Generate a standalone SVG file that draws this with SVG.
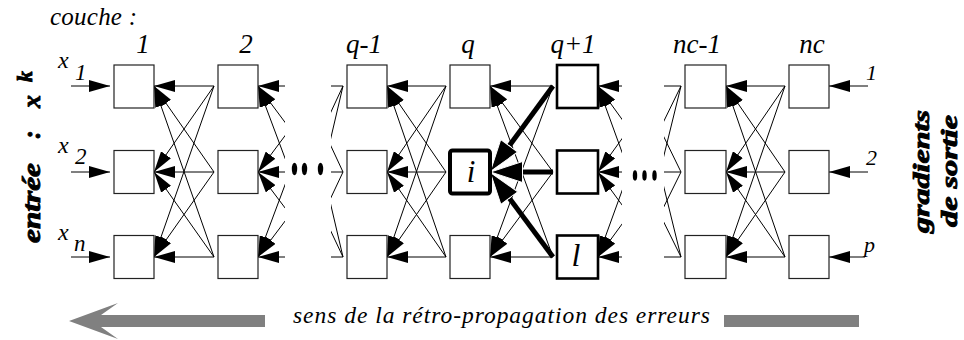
<svg xmlns="http://www.w3.org/2000/svg" width="964" height="340" viewBox="0 0 964 340">
<style>
.box{fill:#fff;stroke:#222;stroke-width:1.2}
.b2{fill:#fff;stroke:#000;stroke-width:2.6}
.b4{fill:#fff;stroke:#000;stroke-width:4}
.ln{stroke:#000;stroke-width:1;fill:none}
.ar{stroke:#000;stroke-width:1;fill:none;marker-end:url(#ah)}
.thk{stroke:#000;stroke-width:5;fill:none;marker-end:url(#ahb)}
.it{font-family:'Liberation Serif','DejaVu Serif',serif;font-style:italic;fill:#000}
.side{font-family:'Liberation Serif','DejaVu Serif',serif;font-style:italic;font-weight:bold;fill:#000;stroke:#000;stroke-width:0.9}
</style>
<defs>
<marker id="ah" markerUnits="userSpaceOnUse" markerWidth="21" markerHeight="12" refX="21" refY="6" orient="auto" viewBox="0 0 21 12"><path d="M0,0 L21,6 L0,12z" fill="#000"/></marker>
<marker id="ahb" markerUnits="userSpaceOnUse" markerWidth="33" markerHeight="22" refX="0" refY="11" orient="auto" viewBox="0 0 33 22"><path d="M0.5,0.5 L32.5,11 L0.5,21.5z" fill="#000" stroke="#fff" stroke-width="1"/></marker>
<clipPath id="cA"><rect x="250" y="40" width="35" height="250"/></clipPath>
<clipPath id="cB"><rect x="331" y="40" width="20" height="250"/></clipPath>
<clipPath id="cC"><rect x="590" y="40" width="32" height="250"/></clipPath>
<clipPath id="cD"><rect x="664" y="40" width="20" height="250"/></clipPath>
</defs>
<rect width="964" height="340" fill="#fff"/>

<g id="connectors">
<line class="ar" x1="71" y1="86" x2="110" y2="86"/>
<line class="ar" x1="71" y1="172" x2="110" y2="172"/>
<line class="ar" x1="71" y1="257" x2="110" y2="257"/>
<line class="ar" x1="214" y1="86" x2="154" y2="86"/>
<line class="ar" x1="214" y1="86" x2="154" y2="172"/>
<line class="ar" x1="214" y1="86" x2="154" y2="257"/>
<line class="ar" x1="214" y1="172" x2="154" y2="86"/>
<line class="ar" x1="214" y1="172" x2="154" y2="172"/>
<line class="ar" x1="214" y1="172" x2="154" y2="257"/>
<line class="ar" x1="214" y1="257" x2="154" y2="86"/>
<line class="ar" x1="214" y1="257" x2="154" y2="172"/>
<line class="ar" x1="214" y1="257" x2="154" y2="257"/>
<g clip-path="url(#cA)">
<line class="ar" x1="322" y1="86" x2="258" y2="86"/>
<line class="ar" x1="322" y1="86" x2="258" y2="172"/>
<line class="ar" x1="322" y1="86" x2="258" y2="257"/>
<line class="ar" x1="322" y1="172" x2="258" y2="86"/>
<line class="ar" x1="322" y1="172" x2="258" y2="172"/>
<line class="ar" x1="322" y1="172" x2="258" y2="257"/>
<line class="ar" x1="322" y1="257" x2="258" y2="86"/>
<line class="ar" x1="322" y1="257" x2="258" y2="172"/>
<line class="ar" x1="322" y1="257" x2="258" y2="257"/>
</g>
<g clip-path="url(#cB)">
<line class="ln" x1="343" y1="86" x2="303" y2="86"/>
<line class="ln" x1="343" y1="86" x2="303" y2="172"/>
<line class="ln" x1="343" y1="86" x2="303" y2="257"/>
<line class="ln" x1="343" y1="172" x2="303" y2="86"/>
<line class="ln" x1="343" y1="172" x2="303" y2="172"/>
<line class="ln" x1="343" y1="172" x2="303" y2="257"/>
<line class="ln" x1="343" y1="257" x2="303" y2="86"/>
<line class="ln" x1="343" y1="257" x2="303" y2="172"/>
<line class="ln" x1="343" y1="257" x2="303" y2="257"/>
</g>
<line class="ar" x1="446" y1="86" x2="387" y2="86"/>
<line class="ar" x1="446" y1="86" x2="387" y2="172"/>
<line class="ar" x1="446" y1="86" x2="387" y2="257"/>
<line class="ar" x1="446" y1="172" x2="387" y2="86"/>
<line class="ar" x1="446" y1="172" x2="387" y2="172"/>
<line class="ar" x1="446" y1="172" x2="387" y2="257"/>
<line class="ar" x1="446" y1="257" x2="387" y2="86"/>
<line class="ar" x1="446" y1="257" x2="387" y2="172"/>
<line class="ar" x1="446" y1="257" x2="387" y2="257"/>
<line class="ar" x1="553" y1="86" x2="490" y2="86"/>
<line class="ar" x1="553" y1="86" x2="490" y2="257"/>
<line class="ar" x1="553" y1="172" x2="490" y2="86"/>
<line class="ar" x1="553" y1="172" x2="490" y2="257"/>
<line class="ar" x1="553" y1="257" x2="490" y2="86"/>
<line class="ar" x1="553" y1="257" x2="490" y2="257"/>
<line class="thk" x1="553" y1="86" x2="509.5" y2="145.4"/>
<line class="thk" x1="553" y1="172" x2="523" y2="172"/>
<line class="thk" x1="553" y1="257" x2="509.6" y2="198.5"/>
<g clip-path="url(#cC)">
<line class="ar" x1="660" y1="86" x2="598" y2="86"/>
<line class="ar" x1="660" y1="86" x2="598" y2="172"/>
<line class="ar" x1="660" y1="86" x2="598" y2="257"/>
<line class="ar" x1="660" y1="172" x2="598" y2="86"/>
<line class="ar" x1="660" y1="172" x2="598" y2="172"/>
<line class="ar" x1="660" y1="172" x2="598" y2="257"/>
<line class="ar" x1="660" y1="257" x2="598" y2="86"/>
<line class="ar" x1="660" y1="257" x2="598" y2="172"/>
<line class="ar" x1="660" y1="257" x2="598" y2="257"/>
</g>
<g clip-path="url(#cD)">
<line class="ln" x1="681" y1="86" x2="639" y2="86"/>
<line class="ln" x1="681" y1="86" x2="639" y2="172"/>
<line class="ln" x1="681" y1="86" x2="639" y2="257"/>
<line class="ln" x1="681" y1="172" x2="639" y2="86"/>
<line class="ln" x1="681" y1="172" x2="639" y2="172"/>
<line class="ln" x1="681" y1="172" x2="639" y2="257"/>
<line class="ln" x1="681" y1="257" x2="639" y2="86"/>
<line class="ln" x1="681" y1="257" x2="639" y2="172"/>
<line class="ln" x1="681" y1="257" x2="639" y2="257"/>
</g>
<line class="ar" x1="785" y1="86" x2="726" y2="86"/>
<line class="ar" x1="785" y1="86" x2="726" y2="172"/>
<line class="ar" x1="785" y1="86" x2="726" y2="257"/>
<line class="ar" x1="785" y1="172" x2="726" y2="86"/>
<line class="ar" x1="785" y1="172" x2="726" y2="172"/>
<line class="ar" x1="785" y1="172" x2="726" y2="257"/>
<line class="ar" x1="785" y1="257" x2="726" y2="86"/>
<line class="ar" x1="785" y1="257" x2="726" y2="172"/>
<line class="ar" x1="785" y1="257" x2="726" y2="257"/>
<line class="ar" x1="868" y1="86" x2="829" y2="86"/>
<line class="ar" x1="868" y1="172" x2="829" y2="172"/>
<line class="ar" x1="865" y1="257" x2="829" y2="257"/>
</g>

<g id="n1-1"><rect class="box" x="114" y="65" width="40" height="43"/></g>
<g id="n1-2"><rect class="box" x="114" y="150.5" width="40" height="43"/></g>
<g id="n1-3"><rect class="box" x="114" y="235.5" width="40" height="43"/></g>
<g id="n2-1"><rect class="box" x="218" y="65" width="40" height="43"/></g>
<g id="n2-2"><rect class="box" x="218" y="150.5" width="40" height="43"/></g>
<g id="n2-3"><rect class="box" x="218" y="235.5" width="40" height="43"/></g>
<g id="nqm1-1"><rect class="box" x="347" y="65" width="40" height="43"/></g>
<g id="nqm1-2"><rect class="box" x="347" y="150.5" width="40" height="43"/></g>
<g id="nqm1-3"><rect class="box" x="347" y="235.5" width="40" height="43"/></g>
<g id="nq-1"><rect class="box" x="450" y="65" width="40" height="43"/></g>
<g id="nq-i"><rect class="b4" x="450" y="150.5" width="40" height="43" rx="2.5"/><text class="it" x="471" y="182" font-size="31" text-anchor="middle">i</text></g>
<g id="nq-3"><rect class="box" x="450" y="235.5" width="40" height="43"/></g>
<g id="nqp1-1"><rect class="b2" x="557" y="65" width="41" height="43"/></g>
<g id="nqp1-2"><rect class="b2" x="557" y="150.5" width="41" height="43"/></g>
<g id="nqp1-l"><rect class="b2" x="557" y="235.5" width="41" height="43"/><text class="it" x="576" y="266" font-size="32" text-anchor="middle">l</text></g>
<g id="nnc1-1"><rect class="box" x="685" y="65" width="41" height="43"/></g>
<g id="nnc1-2"><rect class="box" x="685" y="150.5" width="41" height="43"/></g>
<g id="nnc1-3"><rect class="box" x="685" y="235.5" width="41" height="43"/></g>
<g id="nnc-1"><rect class="box" x="789" y="65" width="40" height="43"/></g>
<g id="nnc-2"><rect class="box" x="789" y="150.5" width="40" height="43"/></g>
<g id="nnc-3"><rect class="box" x="789" y="235.5" width="40" height="43"/></g>

<g id="dots-left" fill="#000">
<ellipse cx="294.5" cy="169" rx="2.7" ry="6.2"/>
<ellipse cx="304.5" cy="169" rx="2.7" ry="6.2"/>
<ellipse cx="320.5" cy="169" rx="2.7" ry="6.2"/>
</g>
<g id="dots-right" fill="#000">
<ellipse cx="635" cy="175.5" rx="2.2" ry="5.2"/>
<ellipse cx="644.5" cy="175.5" rx="2.2" ry="5.2"/>
<ellipse cx="654.5" cy="175.5" rx="2.2" ry="5.2"/>
</g>

<text class="it" x="50" y="25" font-size="25" textLength="87" lengthAdjust="spacing">couche :</text>
<g class="it" font-size="27" text-anchor="middle">
<text x="143" y="53">1</text>
<text x="246" y="53">2</text>
<text x="364" y="53">q-1</text>
<text x="468" y="53">q</text>
<text x="573" y="53">q+1</text>
<text x="697" y="53">nc-1</text>
<text x="812" y="53">nc</text>
</g>
<g class="it" font-size="24">
<text x="58" y="68">x</text><text x="75" y="80" font-size="23">1</text>
<text x="58" y="153">x</text><text x="75" y="164" font-size="23">2</text>
<text x="58" y="240">x</text><text x="74" y="251" font-size="23">n</text>
<text x="866" y="80" font-size="22">1</text>
<text x="866" y="165" font-size="22">2</text>
<text x="864" y="252" font-size="22">p</text>
</g>

<g id="label-entree" transform="translate(40,243) rotate(-90)">
<text class="side" x="0" y="0" font-size="26" textLength="80" lengthAdjust="spacingAndGlyphs">entrée</text>
<text class="side" x="104" y="0" font-size="26">:</text>
<text class="side" x="135" y="0" font-size="26">x</text>
<text class="side" x="161" y="-8" font-size="22">k</text>
</g>
<text class="side" transform="translate(929,233) rotate(-90)" font-size="24" textLength="123" lengthAdjust="spacingAndGlyphs">gradients</text>
<text class="side" transform="translate(957,227) rotate(-90)" font-size="24" textLength="112" lengthAdjust="spacingAndGlyphs">de sortie</text>

<g id="direction" fill="#808080">
<path d="M69,321 L118,303 L101,315 L265,315 L265,327 L101,327 L118,339 Z"/>
<rect x="724" y="315" width="135" height="12"/>
</g>
<text class="it" x="293" y="323" font-size="23.5" textLength="417" lengthAdjust="spacing">sens de la rétro-propagation des erreurs</text>
</svg>
